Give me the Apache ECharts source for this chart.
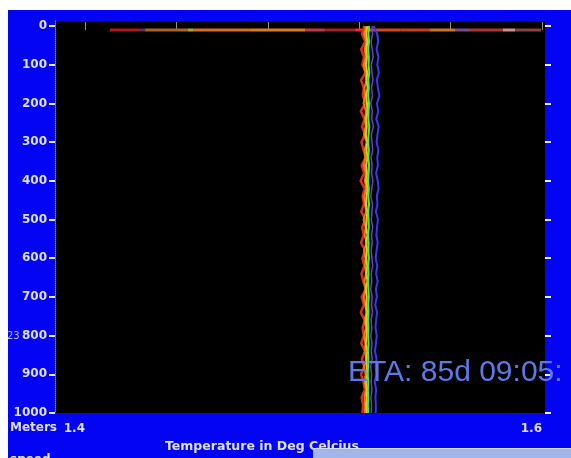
<!DOCTYPE html>
<html><head><meta charset="utf-8">
<style>html,body{margin:0;padding:0;background:#fff;width:571px;height:458px;overflow:hidden}
#c{position:absolute;left:8px;top:10px;width:563px;height:448px}</style>
<script src="https://cdn.jsdelivr.net/npm/echarts@6/dist/echarts.min.js"></script>
</head><body><div id="c"></div>
<script>
const depths = [0,10,20,40,60,80,100,120,140,160,180,200,220,240,260,280,300,320,340,360,380,400,420,440,460,480,500,520,540,560,580,600,620,640,660,680,700,720,740,760,780,800,820,840,860,880,900,920,940,960,980,1000];
const redTemps = [1.5222,1.5219,1.5212,1.5226,1.5209,1.5221,1.5214,1.5229,1.5208,1.5220,
  1.5216,1.5227,1.5207,1.5223,1.5213,1.5225,1.5210,1.5219,1.5228,1.5211,
  1.5222,1.5206,1.5224,1.5215,1.5221,1.5209,1.5227,1.5213,1.5220,1.5208,
  1.5226,1.5214,1.5223,1.5210,1.5218,1.5229,1.5211,1.5221,1.5207,1.5224,
  1.5215,1.5220,1.5209,1.5226,1.5212,1.5222,1.5208,1.5219,1.5225,1.5211,
  1.5217,1.5214];
const orangeTemps = [1.5228,1.5226,1.5221,1.5231,1.5224,1.5229,1.5220,1.5227,1.5232,1.5223,
  1.5226,1.5219,1.5230,1.5225,1.5228,1.5221,1.5233,1.5224,1.5227,1.5220,
  1.5229,1.5225,1.5231,1.5222,1.5226,1.5230,1.5219,1.5228,1.5224,1.5232,
  1.5221,1.5227,1.5225,1.5230,1.5223,1.5228,1.5220,1.5226,1.5231,1.5224,
  1.5229,1.5222,1.5227,1.5225,1.5232,1.5221,1.5228,1.5224,1.5230,1.5223,
  1.5226,1.5225];
const yellowTemps = [1.5235,1.5233,1.5230,1.5236,1.5231,1.5234,1.5229,1.5235,1.5232,1.5237,
  1.5230,1.5234,1.5236,1.5231,1.5233,1.5229,1.5235,1.5232,1.5236,1.5230,
  1.5234,1.5231,1.5237,1.5232,1.5230,1.5235,1.5233,1.5229,1.5236,1.5231,
  1.5234,1.5230,1.5235,1.5232,1.5236,1.5229,1.5233,1.5231,1.5235,1.5230,
  1.5234,1.5232,1.5229,1.5235,1.5231,1.5233,1.5236,1.5230,1.5234,1.5232,
  1.5231,1.5233];
const greenTemps = [1.5243,1.5242,1.5240,1.5243,1.5239,1.5242,1.5241,1.5244,1.5240,1.5242,
  1.5239,1.5243,1.5241,1.5240,1.5244,1.5241,1.5239,1.5242,1.5240,1.5243,
  1.5241,1.5238,1.5242,1.5240,1.5243,1.5239,1.5241,1.5242,1.5238,1.5241,
  1.5240,1.5242,1.5239,1.5241,1.5238,1.5240,1.5242,1.5239,1.5241,1.5238,
  1.5240,1.5239,1.5241,1.5238,1.5240,1.5239,1.5237,1.5240,1.5238,1.5239,
  1.5238,1.5239];
const purpleTemps = [1.5258,1.5255,1.5259,1.5252,1.5257,1.5261,1.5253,1.5256,1.5260,1.5254,
  1.5258,1.5251,1.5257,1.5255,1.5262,1.5253,1.5256,1.5259,1.5252,1.5257,
  1.5254,1.5260,1.5255,1.5251,1.5258,1.5256,1.5253,1.5259,1.5254,1.5257,
  1.5252,1.5256,1.5259,1.5253,1.5255,1.5250,1.5257,1.5254,1.5258,1.5252,
  1.5255,1.5251,1.5256,1.5253,1.5257,1.5250,1.5254,1.5252,1.5256,1.5251,
  1.5254,1.5253];
const blueTemps = [1.5262,1.5270,1.5279,1.5283,1.5276,1.5284,1.5279,1.5286,1.5277,1.5282,
  1.5288,1.5278,1.5283,1.5275,1.5285,1.5280,1.5276,1.5284,1.5279,1.5282,
  1.5274,1.5281,1.5285,1.5277,1.5280,1.5273,1.5282,1.5278,1.5275,1.5281,
  1.5276,1.5272,1.5279,1.5274,1.5281,1.5273,1.5277,1.5270,1.5278,1.5274,
  1.5271,1.5277,1.5273,1.5269,1.5276,1.5272,1.5275,1.5268,1.5274,1.5271,
  1.5273,1.5272];
const surfaceDepth = 10;
const surfaceBreaks = [1.4109,1.4241,1.4263,1.4451,1.4473,1.4722,1.4963,1.5050,1.5182,1.5239,1.5379,1.5510,1.5619,1.5685,1.5829,1.5882,1.5996];
const xTicks = [1.4,1.44,1.48,1.52,1.56,1.6];
const xLabels = [1.4,1.6];
const yTicks = [0,100,200,300,400,500,600,700,800,900,1000];

const segColors = ['#b41818','#603058','#b06020','#b0a830','#dc6c1c','#e07a18','#c83444','#a82020','#ff2a10','#d84418','#cc3c20','#d07028','#7a4a9a','#b43030','#d09090','#8c4040'];
const profColors = ['#d8301a','#f07818','#ecc820','#44f040','#7040b8','#2c3cff'];
const profWidths = [2.5, 2, 2, 2, 1.5, 2];
const profiles = [redTemps, orangeTemps, yellowTemps, greenTemps, purpleTemps, blueTemps];

const series = [];
for (let i = 0; i < surfaceBreaks.length - 1; i++) {
  series.push({type:'line', silent:true, symbol:'none', animation:false,
    data:[[surfaceBreaks[i], surfaceDepth],[surfaceBreaks[i+1], surfaceDepth]],
    lineStyle:{color:segColors[i], width:3}});
}
profiles.forEach((temps, k) => {
  series.push({type:'line', silent:true, symbol:'none', animation:false,
    data: temps.map((t, i) => [t, depths[i]]),
    lineStyle:{color:profColors[k], width:profWidths[k]}});
});

const txt = '#dde0fa';
const font = 'DejaVu Sans';
const chart = echarts.init(document.getElementById('c'), null, {renderer:'canvas'});
chart.setOption({
  backgroundColor:'#0404f4',
  animation:false,
  grid:{left:47, right:26, top:11, bottom:45, show:true, backgroundColor:'#000', borderWidth:0},
  xAxis:[{
    type:'value', position:'bottom', min:1.38687, max:1.60131,
    splitLine:{show:false}, axisLine:{show:false},
    axisTick:{show:true, inside:true, length:4, customValues:xTicks, lineStyle:{color:'#909090'}},
    axisLabel:{show:true, customValues:xLabels, color:txt, fontFamily:font, fontWeight:'bold', fontSize:12, margin:10, align:'right',
      formatter:(v)=>String(v)}
  },{
    type:'value', position:'top', min:1.38687, max:1.60131,
    splitLine:{show:false}, axisLine:{show:false},
    axisTick:{show:true, inside:true, length:4, customValues:xTicks, lineStyle:{color:'#909090'}},
    axisLabel:{show:false}
  }],
  yAxis:[{
    type:'value', inverse:true, position:'left', min:-13, max:1000,
    splitLine:{show:false},
    axisLine:{show:true, lineStyle:{color:'#8a8a8a', type:'dotted', width:1}},
    axisTick:{show:true, length:6, customValues:yTicks, lineStyle:{color:'#e8e8ff', width:2}},
    axisLabel:{show:true, customValues:yTicks, color:txt, fontFamily:font, fontWeight:'bold', fontSize:12, margin:8,
      formatter:(v)=>String(v)}
  },{
    type:'value', inverse:true, position:'right', min:-13, max:1000,
    splitLine:{show:false}, axisLine:{show:false},
    axisTick:{show:true, length:6, customValues:yTicks, lineStyle:{color:'#e8e8ff', width:2}},
    axisLabel:{show:false}
  }],
  series: series,
  graphic:[
    {type:'text', left:2, top:412, style:{text:'Meters', fill:txt, font:'bold 12px "DejaVu Sans"'}},
    {type:'text', left:-1, top:321, style:{text:'23', fill:'#b8bce0', font:'10px "DejaVu Sans"'}},
    {type:'text', left:157, top:430, style:{text:'Temperature in Deg Celcius', fill:txt, font:'bold 12.5px "DejaVu Sans"'}},
    {type:'text', left:2, top:444, style:{text:'speed', fill:'#e8e8ff', font:'bold 12px "DejaVu Sans"'}},
    {type:'rect', shape:{x:305, y:438, width:260, height:12}, style:{fill:'#a3b6e8'}, z:100},
    {type:'rect', shape:{x:305, y:438, width:260, height:1}, style:{fill:'#d2ddf6'}, z:101},
    {type:'text', x:340, y:363, style:{text:'ETA: 85d 09:05:', fill:'#5b7ae8', font:'30px "Liberation Sans"', textVerticalAlign:'middle'}, z:100}
  ]
});
</script></body></html>
